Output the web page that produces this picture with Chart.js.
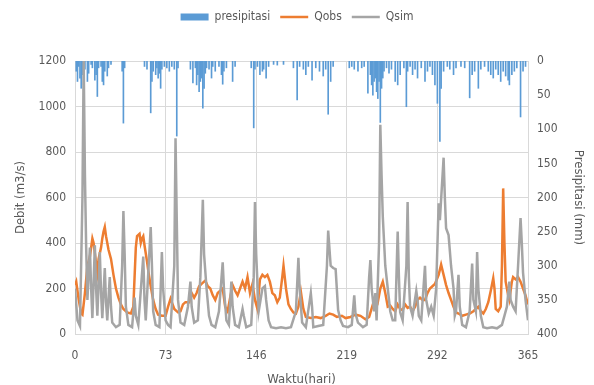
<!DOCTYPE html>
<html>
<head>
<meta charset="utf-8">
<script src="https://cdn.jsdelivr.net/npm/chart.js@4.4.1/dist/chart.umd.min.js"></script>
<style>
  html, body { margin: 0; padding: 0; background: #ffffff; }
  #c { display: block; }
</style>
</head>
<body>
<canvas id="c" width="594" height="385"></canvas>
<script>
// Debit harian (m3/s) dan presipitasi (mm) selama 365 hari

const xTicks = [0, 73, 146, 219, 292, 365];

// Qsim - debit simulasi
const qsimDays = [
  0, 2, 4, 6, 7, 8, 9, 10, 12, 13,
  14, 16, 17, 18, 20, 21, 22, 24, 25, 26,
  28, 29, 30, 33, 36, 38, 39, 40, 41, 43,
  46, 48, 49, 51, 55, 56, 57, 61, 62, 63,
  65, 68, 70, 71, 73, 75, 77, 80, 81, 82,
  83, 85, 88, 91, 93, 94, 96, 99, 101, 103,
  104, 106, 108, 110, 113, 116, 119, 120, 122, 124,
  126, 127, 129, 132, 135, 136, 138, 142, 144, 145,
  146, 148, 151, 153, 154, 156, 158, 162, 166, 170,
  174, 178, 180, 181, 183, 186, 190, 191, 192, 196,
  200, 203, 204, 206, 208, 210, 212, 214, 216, 220,
  223, 225, 226, 228, 230, 232, 235, 237, 238, 239,
  241, 242, 243, 245, 246, 247, 248, 250, 252, 254,
  256, 258, 260, 261, 262, 264, 267, 268, 269, 270,
  272, 275, 276, 277, 279, 282, 283, 285, 287, 289,
  291, 293, 294, 297, 298, 299, 301, 303, 305, 306,
  307, 309, 310, 312, 315, 318, 320, 321, 323, 324,
  325, 327, 329, 332, 336, 340, 344, 346, 348, 350,
  351, 353, 355, 357, 359, 360, 361, 363, 365
];
const qsimVals = [
  200, 60, 35, 600, 1200, 700, 380, 150, 380, 200,
  70, 390, 200, 80, 360, 180, 70, 290, 140, 60,
  250, 120, 50, 30, 40, 300, 540, 350, 120, 40,
  30, 160, 80, 40, 340, 150, 60, 470, 300, 100,
  40, 30, 360, 200, 60, 40, 30, 300, 860, 500,
  150, 50, 40, 120, 230, 120, 50, 60, 250, 590,
  350, 200, 80, 40, 30, 100, 315, 200, 60, 40,
  230, 120, 40, 30, 110, 80, 30, 40, 250, 580,
  350, 100, 200, 210, 150, 60, 30, 25, 30, 25,
  30, 100, 335, 200, 50, 30, 180, 120, 30, 35,
  40, 300, 455, 300, 290, 285, 105, 60, 35, 30,
  40, 170, 90, 50, 40, 30, 40, 250, 325, 200,
  100, 180, 60, 400, 920, 700, 515, 300, 200, 100,
  60, 60, 450, 250, 95, 60, 300, 580, 250, 120,
  80, 190, 150, 80, 60, 300, 150, 90, 120, 80,
  200, 575, 500, 775, 600, 465, 435, 300, 200, 80,
  100, 260, 120, 40, 30, 100, 310, 150, 100, 360,
  200, 80, 30, 25, 30, 25, 40, 80, 120, 230,
  150, 120, 100, 300, 510, 400, 270, 150, 60
];

// Qobs - debit observasi
const qobsDays = [
  0, 1, 3, 5, 6, 8, 10, 12, 14, 15,
  17, 18, 19, 21, 22, 23, 24, 25, 27, 29,
  31, 33, 35, 37, 39, 42, 45, 47, 48, 49,
  50, 52, 53, 54, 55, 56, 58, 59, 61, 63,
  65, 67, 70, 73, 75, 77, 78, 80, 83, 85,
  87, 89, 92, 94, 96, 98, 100, 102, 104, 105,
  107, 109, 111, 113, 115, 117, 119, 121, 123, 125,
  127, 129, 131, 133, 135, 137, 139, 141, 143, 145,
  147, 149, 151, 153, 155, 157, 159, 161, 163, 165,
  167, 168, 170, 172, 174, 176, 178, 180, 182, 184,
  186, 190, 194, 198, 202, 205, 208, 211, 215, 218,
  222, 226, 230, 234, 237, 240, 242, 244, 246, 248,
  250, 252, 254, 256, 258, 260, 262, 264, 266, 268,
  270, 272, 274, 276, 278, 280, 282, 284, 286, 288,
  290, 293, 295, 297, 299, 301, 303, 305, 307, 309,
  312, 315, 318, 321, 323, 325, 327, 329, 331, 333,
  335, 337, 338, 339, 341, 343, 344, 345, 346, 347,
  349, 350, 352, 353, 355, 357, 359, 361, 363, 365
];
const qobsVals = [
  215, 230, 150, 90, 85, 180, 300, 340, 420, 400,
  310, 270, 330, 380, 420, 450, 470, 430, 370, 330,
  260, 200, 160, 130, 110, 95, 90, 120, 250, 380,
  430, 440, 400, 420, 430, 390, 320, 280, 210, 150,
  110, 85, 80, 80, 120, 155, 140, 110, 95, 100,
  130, 140, 140, 180, 160, 180, 210, 220, 230, 235,
  210, 200, 170, 150, 180, 190, 200, 120, 100, 160,
  215, 190, 170, 200, 230, 200, 250, 180, 220, 150,
  110, 240, 260, 250, 260, 230, 180, 170, 140, 160,
  250, 300, 200, 130, 110, 95, 90, 120, 185, 110,
  75, 70, 75, 70, 80, 90, 85, 75, 80, 70,
  75, 85, 80, 65, 75, 130, 160, 140, 200, 230,
  180, 120, 125, 110, 100, 130, 110, 105, 130, 115,
  120, 100, 120, 150, 160, 150, 150, 180, 200, 210,
  220, 260, 305, 260, 215, 180, 150, 120, 95, 90,
  80, 85, 90, 100, 110, 120, 100, 90, 110, 140,
  190, 245, 200, 110, 100, 120, 300, 640, 400, 230,
  170, 150, 230, 250, 240, 250, 230, 200, 170, 130
];

// presipitasi harian (mm), hanya hari hujan
const rainDays = [
  1, 2, 3, 4, 5, 6, 7, 8, 10, 11,
  13, 14, 16, 17, 18, 19, 21, 22, 23, 24,
  26, 27, 29, 38, 39, 40, 56, 58, 61, 62,
  63, 65, 66, 67, 68, 69, 70, 72, 74, 76,
  78, 80, 82, 83, 93, 95, 97, 98, 99, 100,
  101, 102, 103, 104, 105, 106, 108, 110, 111, 113,
  116, 118, 119, 120, 122, 127, 129, 142, 144, 145,
  147, 149, 151, 152, 154, 156, 160, 163, 168, 176,
  179, 181, 184, 186, 188, 191, 194, 197, 200, 202,
  204, 206, 208, 221, 223, 225, 228, 231, 233, 236,
  238, 239, 240, 241, 242, 243, 244, 245, 246, 247,
  248, 249, 251, 253, 255, 258, 260, 262, 265, 267,
  268, 270, 272, 274, 276, 279, 282, 284, 286, 288,
  290, 292, 294, 295, 297, 300, 302, 305, 307, 311,
  314, 318, 320, 322, 325, 327, 330, 333, 335, 337,
  339, 341, 343, 345, 347, 349, 350, 352, 354, 356,
  359, 361, 363
];
const rainMm = [
  15, 30, 8, 25, 40, 20, 35, 12, 30, 18,
  5, 10, 28, 20, 52, 10, 8, 30, 35, 15,
  22, 10, 5, 15, 91, 10, 8, 12, 76, 30,
  15, 20, 10, 25, 18, 40, 12, 8, 10, 15,
  8, 12, 110, 10, 12, 32, 10, 35, 20, 45,
  30, 25, 69, 40, 18, 10, 12, 25, 8, 15,
  8, 20, 34, 15, 10, 30, 8, 10, 98, 12,
  8, 20, 15, 12, 25, 8, 5, 6, 5, 10,
  57, 8, 12, 20, 8, 28, 10, 15, 22, 12,
  78, 30, 8, 10, 8, 12, 15, 10, 8, 47,
  20, 35, 50, 30, 25, 45, 55, 30, 90, 40,
  25, 15, 10, 18, 12, 30, 35, 20, 10, 67,
  15, 8, 20, 12, 25, 10, 30, 15, 8, 20,
  35, 62, 118, 40, 15, 8, 12, 20, 10, 8,
  10, 54, 20, 15, 40, 12, 8, 15, 20, 25,
  12, 20, 30, 15, 22, 28, 35, 20, 15, 10,
  82, 15, 8
];

const toPoints = (days, vals) => days.map((d, i) => ({ x: d, y: vals[i] }));

const TEXT = '#595959';
const GRID = '#D9D9D9';
const FONT = '"DejaVu Sans Condensed", "Liberation Sans Narrow", "Open Sans", sans-serif';

// legend diberi tinggi tetap supaya area plot mulai di posisi yang sama dengan aslinya
const legendHeight = {
  id: 'legendHeight',
  beforeInit(chart) {
    if (!chart.legend) return;
    const fit = chart.legend.fit;
    chart.legend.fit = function () {
      fit.call(this);
      this.height = 60;
    };
  },
};

new Chart(document.getElementById('c'), {
  type: 'line',
  data: {
    datasets: [
      {
        label: 'Qsim',
        data: toPoints(qsimDays, qsimVals),
        borderColor: '#A5A5A5',
        backgroundColor: '#A5A5A5',
        borderWidth: 2.5,
        pointRadius: 0,
        tension: 0,
        yAxisID: 'y',
      },
      {
        label: 'Qobs',
        data: toPoints(qobsDays, qobsVals),
        borderColor: '#ED7D31',
        backgroundColor: '#ED7D31',
        borderWidth: 2.5,
        pointRadius: 0,
        tension: 0,
        yAxisID: 'y',
      },
      {
        type: 'bar',
        label: 'presipitasi',
        data: toPoints(rainDays, rainMm),
        backgroundColor: '#5B9BD5',
        borderWidth: 0,
        barThickness: 1,
        yAxisID: 'y2',
      },
    ],
  },
  options: {
    responsive: false,
    animation: false,
    layout: { padding: { top: 1, left: 0, right: 0, bottom: 0 } },
    plugins: {
      tooltip: { enabled: false },
      legend: {
        position: 'top',
        reverse: true,
        labels: {
          color: TEXT,
          font: { family: FONT, size: 12 },
          usePointStyle: true,
          pointStyleWidth: 28,
          boxHeight: 7,
          padding: 10,
          generateLabels(chart) {
            const items = Chart.defaults.plugins.legend.labels.generateLabels(chart);
            items.forEach(it => {
              const ds = chart.data.datasets[it.datasetIndex];
              if (ds.type === 'bar') {
                it.pointStyle = 'rect';
                it.lineWidth = 0;
              } else {
                it.pointStyle = 'line';
                it.lineWidth = 2.5;
              }
            });
            return items;
          },
        },
      },
    },
    scales: {
      x: {
        type: 'linear',
        min: 0,
        max: 365,
        offset: false,
        afterBuildTicks: axis => { axis.ticks = xTicks.map(v => ({ value: v })); },
        afterFit: axis => { axis.height = 51; },
        grid: { color: GRID, drawTicks: false, offset: false },
        border: { color: GRID },
        ticks: { color: TEXT, font: { family: FONT, size: 12 }, padding: 15, maxRotation: 0 },
        title: {
          display: true,
          text: 'Waktu(hari)',
          color: TEXT,
          font: { family: FONT, size: 13 },
          padding: { top: 0, bottom: -2 },
        },
      },
      y: {
        position: 'left',
        min: 0,
        max: 1200,
        afterFit: axis => { axis.width = 75; },
        grid: { color: GRID, drawTicks: false },
        border: { color: GRID },
        ticks: { stepSize: 200, color: TEXT, font: { family: FONT, size: 12 }, padding: 9, callback: v => String(v) },
        title: {
          display: true,
          text: 'Debit (m3/s)',
          color: TEXT,
          font: { family: FONT, size: 13 },
          padding: { top: 13, bottom: 0 },
        },
      },
      y2: {
        position: 'right',
        reverse: true,
        min: 0,
        max: 400,
        afterFit: axis => { axis.width = 66; },
        grid: { display: false, drawTicks: false },
        border: { color: GRID },
        ticks: { stepSize: 50, color: TEXT, font: { family: FONT, size: 12 }, padding: 9, callback: v => String(v) },
        title: {
          display: true,
          text: 'Presipitasi (mm)',
          color: TEXT,
          font: { family: FONT, size: 13 },
          padding: { top: 8, bottom: 0 },
        },
      },
    },
  },
  plugins: [legendHeight],
});
</script>
</body>
</html>
